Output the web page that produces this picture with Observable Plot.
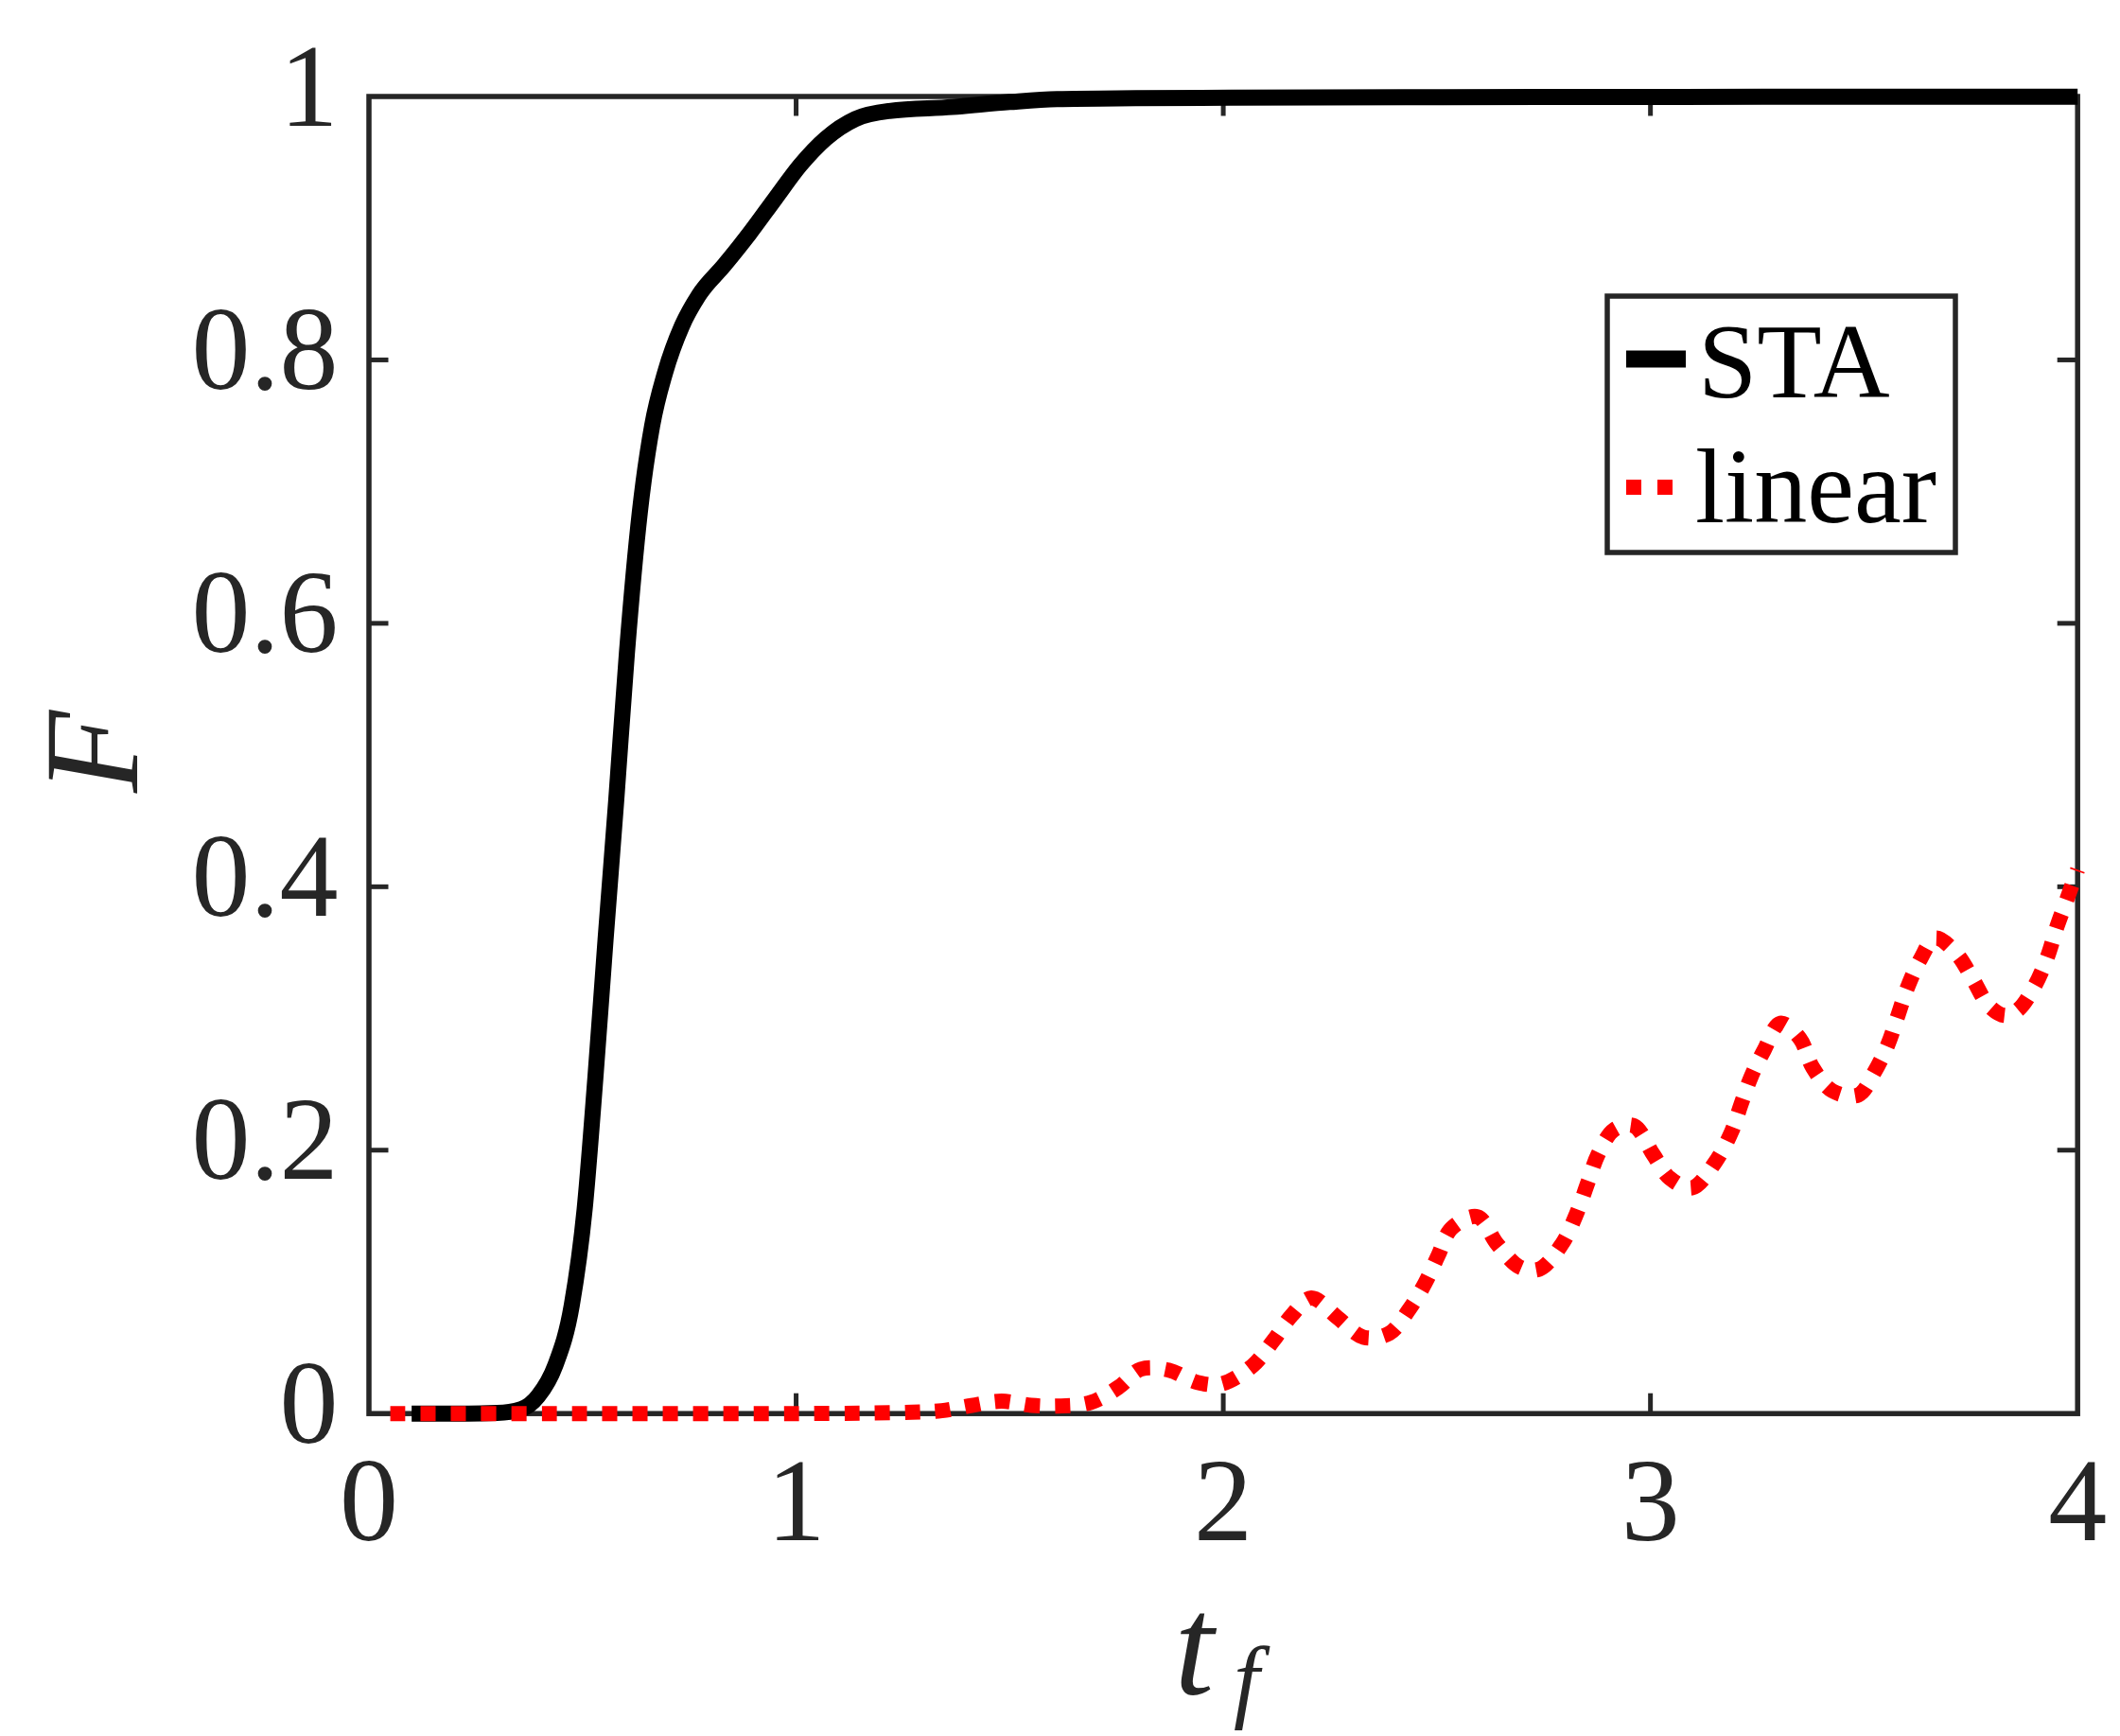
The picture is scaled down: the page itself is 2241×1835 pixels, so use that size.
<!DOCTYPE html>
<html>
<head>
<meta charset="utf-8">
<script src="https://cdn.jsdelivr.net/npm/d3@7"></script>
<script src="https://cdn.jsdelivr.net/npm/@observablehq/plot@0.6"></script>
<style>
  html, body { margin: 0; padding: 0; background: #ffffff; }
  #chart svg { display: block; }
</style>
</head>
<body>
<div id="chart"></div>
<script>
// ---------- data ----------
const staT = [0.1, 0.2, 0.3, 0.356, 0.396, 0.436, 0.475, 0.505, 0.53, 0.554, 0.579, 0.604, 0.634, 0.663, 0.693, 0.733, 0.772, 0.832, 0.891, 0.95, 1.01, 1.069, 1.139, 1.218, 1.366, 1.5, 1.611, 1.795, 2.016, 2.5, 3, 3.5, 4];
const staF = [0, 0, 0.0005, 0.0033, 0.0132, 0.0364, 0.0826, 0.1553, 0.2545, 0.3602, 0.466, 0.578, 0.684, 0.75, 0.79, 0.826, 0.849, 0.872, 0.896, 0.922, 0.948, 0.968, 0.983, 0.989, 0.992, 0.9958, 0.998, 0.9987, 0.9991, 0.9995, 0.9997, 0.9998, 0.9999];

const linT = [0.05, 0.5, 1.0, 1.271, 1.341, 1.411, 1.481, 1.551, 1.621, 1.69, 1.756, 1.807, 1.872, 1.939, 1.995, 2.068, 2.117, 2.16, 2.206, 2.267, 2.328, 2.389, 2.435, 2.473, 2.503, 2.534, 2.595, 2.641, 2.694, 2.74, 2.793, 2.824, 2.854, 2.877, 2.915, 2.961, 3.007, 3.045, 3.098, 3.151, 3.19, 3.212, 3.235, 3.266, 3.304, 3.35, 3.38, 3.426, 3.487, 3.525, 3.556, 3.578, 3.601, 3.632, 3.667, 3.716, 3.754, 3.792, 3.83, 3.861, 3.899, 3.929, 3.952, 3.975, 4.0];
const linF = [0, 0, 0, 0.001, 0.0022, 0.0062, 0.0094, 0.0062, 0.0058, 0.0085, 0.0203, 0.0337, 0.033, 0.0237, 0.0225, 0.0362, 0.0553, 0.0745, 0.0877, 0.073, 0.058, 0.061, 0.079, 0.0994, 0.12, 0.1406, 0.1494, 0.1288, 0.1112, 0.1097, 0.1288, 0.1494, 0.1759, 0.1965, 0.2156, 0.2185, 0.1965, 0.1788, 0.1715, 0.1906, 0.2141, 0.2347, 0.2553, 0.2759, 0.2964, 0.2847, 0.2626, 0.245, 0.242, 0.2597, 0.2803, 0.3009, 0.3229, 0.345, 0.3611, 0.3494, 0.3303, 0.3097, 0.3023, 0.3067, 0.3244, 0.3464, 0.37, 0.3905, 0.413];

const xTicks = [0, 1, 2, 3, 4];
const xTickLabels = ["0", "1", "2", "3", "4"];
const yTicks = [0, 0.2, 0.4, 0.6, 0.8, 1];
const yTickLabels = ["0", "0.2", "0.4", "0.6", "0.8", "1"];
const seriesNames = ["STA", "linear"];
const xLabel = "t";
const xLabelSub = "f";
const yLabel = "F";

// ---------- tables ----------
const sta = staT.map((t, i) => ({t, F: staF[i]}));
const lin = linT.map((t, i) => ({t, F: linF[i]}));

// ---------- layout / style ----------
const W = 2241, H = 1835;
const mL = 389.5, mR = 45.3, mT = 101.5, mB = 341.3;
const innerW = W - mL - mR, innerH = H - mT - mB;
const ink = "#262626";
const serif = "'Liberation Serif', 'Times New Roman', serif";
const tickLen = 21;
const tickFont = 124;

const chart = Plot.plot({
  width: W,
  height: H,
  marginLeft: mL,
  marginRight: mR,
  marginTop: mT,
  marginBottom: mB,
  style: {fontFamily: serif, background: "#ffffff", overflow: "visible"},
  x: {domain: [0, 4], axis: null},
  y: {domain: [0, 1], axis: null},
  marks: [
    // inward ticks, all four sides
    Plot.tickX(xTicks.slice(1, -1), {x: d => d, stroke: ink, strokeWidth: 5, insetTop: innerH - tickLen}),
    Plot.tickX(xTicks.slice(1, -1), {x: d => d, stroke: ink, strokeWidth: 5, insetBottom: innerH - tickLen}),
    Plot.tickY(yTicks.slice(1, -1), {y: d => d, stroke: ink, strokeWidth: 5, insetRight: innerW - tickLen}),
    Plot.tickY(yTicks.slice(1, -1), {y: d => d, stroke: ink, strokeWidth: 5, insetLeft: innerW - tickLen}),
    Plot.frame({stroke: ink, strokeWidth: 5.5}),
    // tick labels
    Plot.text(xTicks, {x: d => d, text: (d, i) => xTickLabels[i], frameAnchor: "bottom", lineAnchor: "bottom", dy: 133.3, fontSize: tickFont, fill: ink}),
    Plot.text(yTicks, {y: d => d, text: (d, i) => yTickLabels[i], frameAnchor: "left", textAnchor: "end", lineAnchor: "bottom", dx: -32.5, dy: 30.5, fontSize: tickFont, fill: ink}),
    // axis labels
    Plot.text([yLabel], {text: d => d, frameAnchor: "left", rotate: -90, dx: -290, dy: 40, fontSize: 142, fontStyle: "italic", fill: ink}),
    Plot.text([xLabel], {text: d => d, frameAnchor: "bottom", textAnchor: "end", lineAnchor: "bottom", dx: -10, dy: 296.3, fontSize: 150, fontStyle: "italic", fill: ink}),
    Plot.text([xLabelSub], {text: d => d, frameAnchor: "bottom", textAnchor: "start", lineAnchor: "bottom", dx: 11, dy: 314, fontSize: 98, fontStyle: "italic", fill: ink}),
    // series
    Plot.line(sta, {x: "t", y: "F", stroke: "#000000", strokeWidth: 17, curve: "monotone-x", strokeLinejoin: "round", strokeLinecap: "butt"}),
    Plot.line(lin, {x: "t", y: "F", stroke: "#ff0000", strokeWidth: 16, strokeDasharray: "16,16", strokeLinecap: "butt", curve: "catmull-rom"})
  ]
});

document.getElementById("chart").appendChild(chart);

// ---------- legend (inside the axes, top right) ----------
const svg = d3.select(chart);
const lg = svg.append("g").attr("class", "legend").attr("text-anchor", "start");
lg.append("rect")
  .attr("x", 1699).attr("y", 313).attr("width", 368).attr("height", 271)
  .attr("fill", "#ffffff").attr("stroke", ink).attr("stroke-width", 5.5);
const entries = [
  {name: seriesNames[0], color: "#000000", dash: null, width: 18, x2: 1782, ly: 379.5, ty: 420, tx: 1795},
  {name: seriesNames[1], color: "#ff0000", dash: "16,17", width: 16, x2: 1768, ly: 515, ty: 552, tx: 1792}
];
entries.forEach(e => {
  lg.append("line")
    .attr("x1", 1719).attr("x2", e.x2).attr("y1", e.ly).attr("y2", e.ly)
    .attr("stroke", e.color).attr("stroke-width", e.width)
    .attr("stroke-dasharray", e.dash);
  lg.append("text")
    .attr("x", e.tx).attr("y", e.ty)
    .attr("text-anchor", "start")
    .attr("font-family", serif).attr("font-size", 112)
    .attr("fill", "#000000")
    .text(e.name);
});
</script>
</body>
</html>
